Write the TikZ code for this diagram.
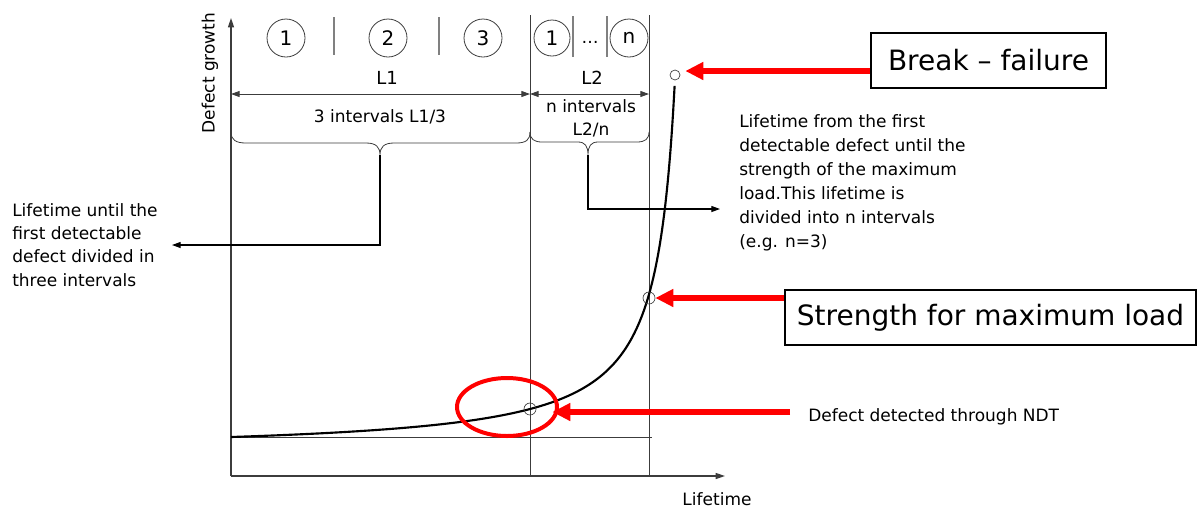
\documentclass[tikz,border=0pt]{standalone}
\usepackage{fontspec}
\setmainfont{DejaVu Sans}
\usetikzlibrary{arrows.meta,calc}
\definecolor{myred}{RGB}{255,0,0}
\definecolor{axisgray}{RGB}{60,60,60}
\tikzset{
  lbl/.style={font=\fontsize{12.75}{17.25}\selectfont, inner sep=0pt},
  rlbl/.style={font=\fontsize{12.75}{18}\selectfont, inner sep=0pt, align=left},
  bigbox/.style={draw=black, font=\fontsize{21}{25}\selectfont, inner sep=0pt},
  num/.style={draw=axisgray, circle, inner sep=0pt, line width=0.6pt, font=\fontsize{15}{18}\selectfont},
  dot/.style={draw=axisgray, circle, inner sep=0pt, line width=0.5pt},
  thinline/.style={draw=axisgray, line width=0.5pt},
  sepline/.style={draw=gray, line width=0.9pt},
  axisline/.style={draw=axisgray, line width=1pt, -{Triangle[length=7pt,width=4.5pt]}},
  dimline/.style={draw=axisgray, line width=0.7pt, {Triangle[length=6.5pt,width=4.5pt]}-{Triangle[length=6.5pt,width=4.5pt]}},
  bracel/.style={draw=axisgray, line width=0.6pt},
  arr/.style={draw=black, line width=0.8pt, -{Triangle[length=6.5pt,width=4.5pt]}},
  redarr/.style={draw=myred, line width=4.5pt, -{Triangle[length=13.5pt,width=12.75pt]}},
  curve/.style={draw=black, line width=1.6pt},
}
\begin{document}
\begin{tikzpicture}[x=0.75pt,y=-0.75pt]
\useasboundingbox (0,0) rectangle (1198,508);

% axes
\coordinate (O) at (231,476);
\coordinate (ytop) at (231,18);
\coordinate (xend) at (725,476);
\draw[axisline] (O) -- (ytop);
\draw[axisline] (O) -- (xend);
\node[lbl, rotate=90] (ylab) at (210,73) {Defect growth};
\node[lbl] (xlab) at (717,499) {Lifetime};

% vertical guide lines and baseline
\coordinate (v1t) at (530,15); \coordinate (v1b) at (530,476);
\coordinate (v2t) at (649,15); \coordinate (v2b) at (649,476);
\draw[thinline] (v1t) -- (v1b);
\draw[thinline] (v2t) -- (v2b);
\coordinate (bl1) at (231,437); \coordinate (bl2) at (652,437);
\draw[thinline] (bl1) -- (bl2);

% top interval markers
\node[num, minimum size=28.5pt] (n1) at (286,38) {1};
\node[num, minimum size=28.5pt] (n2) at (388,38) {2};
\node[num, minimum size=28.5pt] (n3) at (483,38) {3};
\node[num, minimum size=27pt] (m1) at (552,38) {1};
\node[lbl] (mdots) at (590,42) {\ldots};
\node[num, minimum size=28.5pt] (mn) at (629,38) {n};
\draw[sepline] (334,17) -- (334,55);
\draw[sepline] (439,17) -- (439,55);
\draw[sepline] (573,16) -- (573,57);
\draw[sepline] (607,16) -- (607,57);

% dimension lines
\node[lbl, font=\fontsize{13.5}{17}\selectfont] (L1) at (387,78) {L1};
\node[lbl, font=\fontsize{13.5}{17}\selectfont] (L2) at (592,78) {L2};
\coordinate (d1) at (231,94); \coordinate (d2) at (530,94); \coordinate (d3) at (649,94);
\draw[dimline] (d1) -- (d2);
\draw[dimline] (d2) -- (d3);
\node[lbl] (i1) at (380,117) {3 intervals L1/3};
\node[lbl, align=center, font=\fontsize{12.75}{17.5}\selectfont] (i2) at (591,118) {n intervals\\L2/n};

% braces
\draw[bracel] (231,132) .. controls (231,140) and (236,143) .. (246,143) -- (366,143)
  .. controls (376,143) and (380,147) .. (380,155)
  .. controls (380,147) and (384,143) .. (394,143) -- (516,143)
  .. controls (526,143) and (530,140) .. (530,132);
\draw[bracel] (530,132) .. controls (530,139) and (534,142) .. (542,142) -- (578,142)
  .. controls (585,142) and (588,146) .. (588,155)
  .. controls (588,146) and (591,142) .. (598,142) -- (637,142)
  .. controls (645,142) and (649,139) .. (649,132);
\coordinate (b1) at (380,155);
\coordinate (b2) at (588,155);

% side texts and their arrows
\node[lbl, anchor=west, align=left, font=\fontsize{12.75}{17.4}\selectfont] (lt) at (12,245)
  {Lifetime until the\\first detectable\\defect divided in\\three intervals};
\coordinate (l1) at (172,245);
\draw[arr] (b1) |- (l1);
\node[rlbl, anchor=north west] (rt) at (739,114)
  {Lifetime from the first\\detectable defect until the\\strength of the maximum\\load.This lifetime is\\divided into n intervals\\(e.g. n=3)};
\coordinate (r2) at (720,209);
\draw[arr] (b2) |- (r2);

% growth curve
\draw[curve] plot[domain=231:674.6, samples=300, smooth] (\x, {437 - 7110/(694-\x) + 15.36});

% marked points
\node[dot, minimum size=7.5pt] (cbrk) at (675,75) {};
\node[dot, minimum size=9pt] (cstr) at (649,298) {};
\node[dot, minimum size=9pt] (cndt) at (530,409) {};

% red highlight ellipse
\draw[myred, line width=3pt] (507,407) ellipse [x radius=37.5pt, y radius=21.75pt];

% callout boxes
\node[bigbox, line width=1.5pt, minimum width=176.25pt, minimum height=41.25pt] (brk) at (988.5,60.5) {Break -- failure};
\node[bigbox, line width=1pt, minimum width=308.25pt, minimum height=41.25pt] (str) at (990.5,317.5) {Strength for maximum load};
\node[lbl, anchor=west] (ndt) at (808,417) {Defect detected through NDT};

% red arrows
\draw[redarr] ($(brk.west)+(0,10.5)$) -- ($(cbrk.east)+(5,-4)$);
\draw[redarr] ($(str.west)+(0,-19.5)$) -- (cstr.east);
\draw[redarr] ($(ndt.west)+(-18,-5)$) -- ($(cndt.east)+(16,3)$);
\end{tikzpicture}
\end{document}
